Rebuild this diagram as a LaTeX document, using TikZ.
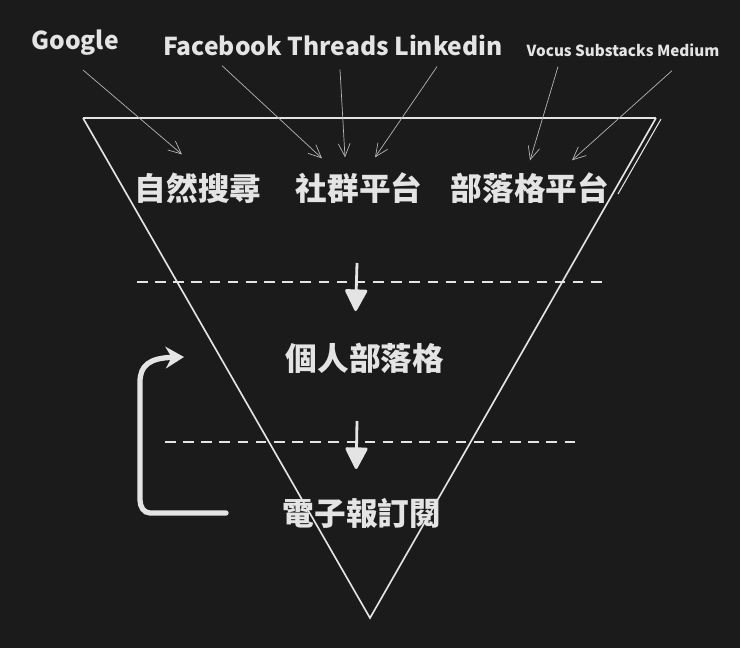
\documentclass[tikz,border=0pt]{standalone}
\usepackage{fontspec}
\setmainfont{Noto Sans CJK TC}
\usetikzlibrary{arrows.meta,positioning,calc}

\definecolor{board}{HTML}{1B1B1B}
\definecolor{chalk}{HTML}{E4E4E4}
\definecolor{pencil}{HTML}{B4B4B4}

\begin{document}
\begin{tikzpicture}[x=0.03cm, y=-0.03cm,
  src/.style={text=chalk, font=\bfseries\fontsize{21}{23}\selectfont, inner sep=0pt},
  stage/.style={text=chalk, font=\bfseries\fontsize{27}{29}\selectfont, inner sep=0pt},
  feed/.style={-{Straight Barb[length=11pt,width=10pt]}, pencil, line width=0.6pt},
  flow/.style={-{Triangle[length=0.7cm,width=0.7cm,round]}, chalk, line width=2.4pt},
  level/.style={chalk, line width=1.6pt, dash pattern=on 9pt off 6.5pt}]

% Background
\fill[board] (0,0) rectangle (740,648);

% Funnel
\draw[chalk, line width=1.4pt] (83,118) -- (370,618) -- (656,118);
\draw[chalk, line width=2.2pt] (83,118) -- (656,118);
\draw[chalk, line width=0.9pt] (661,119) -- (618,194);

% Sources
\node[src] (google) at (75,43) {Google};
\node[src] (social) at (333,45) {Facebook Threads Linkedin};
\node[src, font=\bfseries\fontsize{13}{15}\selectfont] (platform) at (623,50) {Vocus Substacks Medium};

% Top stage
\node[stage] (search) at (198,188) {自然搜尋};
\node[stage] (community) at (359,188) {社群平台};
\node[stage] (blogs) at (530,188) {部落格平台};

% Source arrows
\draw[feed] ([shift={(8,14)}]google.south) -- ([shift={(-16,-18)}]search.north);
\draw[feed] ([shift={(-111,10)}]social.south) -- ([shift={(-37,-14)}]community.north);
\draw[feed] ([shift={(7,14)}]social.south) -- ([shift={(-14,-15)}]community.north);
\draw[feed] ([shift={(104,11)}]social.south) -- ([shift={(16,-15)}]community.north);
\draw[feed] ([shift={(-65,10)}]platform.south) -- ([shift={(0,-12)}]blogs.north);
\draw[feed] ([shift={(49,14)}]platform.south) -- ([shift={(42,-12)}]blogs.north);

% Levels
\node[stage] (personal) at (365,358) {個人部落格};
\node[stage] (mail) at (362,513) {電子報訂閱};
\draw[level] (137,282) -- (605,282);
\draw[level] (165,442) -- (580,442);

\coordinate (top) at (357,263);
\coordinate (mid) at (357,421);
\draw[flow] (top) -- ([xshift=-8]personal.north |- 0,311);
\draw[flow] (mid) -- ([xshift=-5]mail.north |- 0,469);

% Loop back
\coordinate (loop) at (226,513);
\coordinate (back) at (184,357);
\draw[chalk, line width=4.5pt, line cap=round, -{Stealth[length=0.55cm,width=0.65cm]}]
  (loop) -- (150,513) to[out=180,in=270] (140,500) -- (140,382)
  .. controls (140,365) and (150,358) .. (back);

\end{tikzpicture}
\end{document}
